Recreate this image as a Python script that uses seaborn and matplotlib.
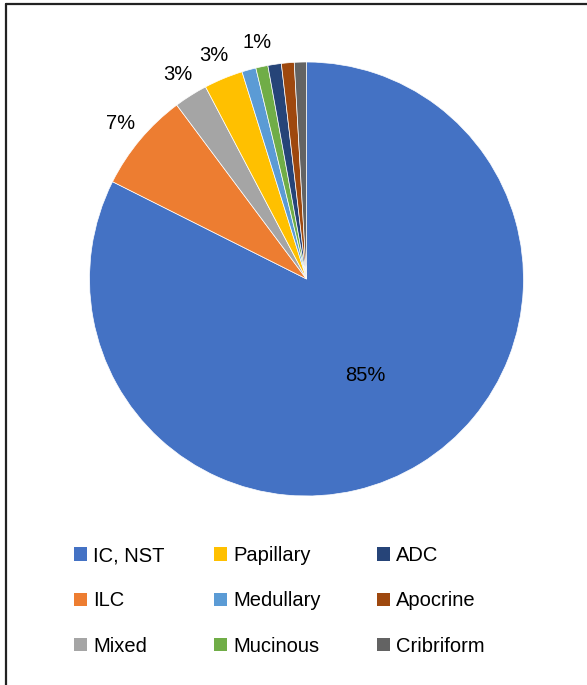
import matplotlib
matplotlib.use("Agg")
import numpy as np
import seaborn as sns
import matplotlib.pyplot as plt
from matplotlib.patches import Patch
from matplotlib.lines import Line2D

# ---- data ----
categories = ["IC, NST", "ILC", "Mixed", "Papillary", "Medullary",
              "Mucinous", "ADC", "Apocrine", "Cribriform"]
shares = [82.4, 7.4, 2.5, 2.9, 1.05, 0.9, 1.0, 0.95, 0.9]
label_texts = ["85%", "7%", "3%", "3%", "", "1%", "", "", ""]
colors = ["#4472C4", "#ED7D31", "#A5A5A5", "#FFC000", "#5B9BD5",
          "#70AD47", "#264478", "#9E480E", "#636363"]
legend_columns = [[0, 1, 2], [3, 4, 5], [6, 7, 8]]

sns.set_theme(style="white")
plt.rcParams["font.family"] = ["Liberation Sans", "DejaVu Sans"]
palette = sns.color_palette(colors)

W, H = 587, 685
FS = 14.5
fig = plt.figure(figsize=(W / 100, H / 100), dpi=100)
fig.patch.set_facecolor("white")

cx, cy, r = 306.5, 279, 217
ax = fig.add_axes([(cx - r) / W, (H - cy - r) / H, 2 * r / W, 2 * r / H])
wedges, _ = ax.pie(shares, colors=palette, startangle=90, counterclock=False,
                   wedgeprops=dict(edgecolor="white", linewidth=0.5))
ax.set_xlim(-1, 1)
ax.set_ylim(-1, 1)
ax.set_aspect("equal")
ax.axis("off")

for i, (w, txt) in enumerate(zip(wedges, label_texts)):
    if not txt:
        continue
    ang = np.deg2rad((w.theta1 + w.theta2) / 2)
    dist = 0.52 if i == 0 else 1.115
    ax.text(dist * np.cos(ang), dist * np.sin(ang), txt, ha="center",
            va="center", fontsize=FS, color="black")

# legend: three columns
col_x = [74, 214, 377]
for cx_leg, idxs in zip(col_x, legend_columns):
    handles = [Patch(facecolor=palette[i], edgecolor="none") for i in idxs]
    labels = [categories[i] for i in idxs]
    fig.legend(handles, labels, loc="upper left",
               bbox_to_anchor=(cx_leg / W, 1 - 546 / H), frameon=False,
               fontsize=FS, handlelength=0.65, handleheight=0.65,
               handletextpad=0.3, labelspacing=1.31, borderpad=0,
               borderaxespad=0, labelcolor="black")

# frame (left and top edges visible)
fig.add_artist(Line2D([6 / W, 6 / W], [0, 1 - 4 / H], transform=fig.transFigure,
                      color="#222222", lw=1.6))
fig.add_artist(Line2D([6 / W, 1], [1 - 4 / H, 1 - 4 / H], transform=fig.transFigure,
                      color="#222222", lw=1.6))

fig.savefig("out.png", dpi=100, facecolor="white")
